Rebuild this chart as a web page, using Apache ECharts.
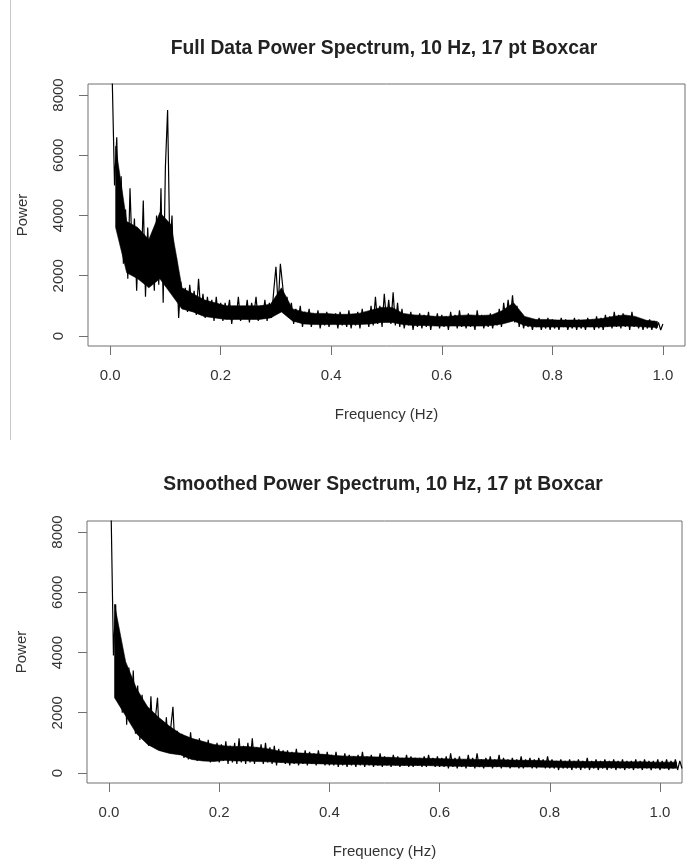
<!DOCTYPE html>
<html>
<head>
<meta charset="utf-8">
<script src="https://cdn.jsdelivr.net/npm/echarts@6/dist/echarts.min.js"></script>
<style>
  html, body { margin: 0; padding: 0; background: #fff; }
  #echart { width: 697px; height: 863px; }
</style>
</head>
<body>
<div id="echart"></div>
<script>
// frequency step of the read-off points (Hz)
var freqStep = 0.004;
// the dense black core of each trace is read every 0.02 Hz, starting at 0.01 Hz
var coreStart = 0.01;
var coreStep = 0.02;

// full data spectrum, 0.004 .. 1.000 Hz
var fullPower = [
  8400, 5000, 6600, 3600, 5300, 2400, 4200, 1900, 4900, 2700,
  3900, 1500, 3300, 2000, 4500, 1300, 3600, 1900, 2900, 1500,
  4000, 1700, 4900, 1100, 5600, 7500, 2900, 4000, 1500, 2600,
  600, 1800, 900, 1600, 800, 1700, 1000, 1500, 700, 1900,
  800, 1400, 600, 1300, 700, 1200, 500, 1300, 600, 1100,
  500, 1100, 700, 1200, 400, 1000, 600, 1300, 500, 900,
  600, 1200, 450, 1100, 700, 1300, 500, 1000, 600, 1200,
  500, 1100, 600, 1500, 2300, 1000, 2400, 1700, 900, 1300,
  600, 1100, 400, 900, 500, 1000, 300, 800, 450, 900,
  300, 750, 400, 850, 250, 700, 350, 800, 300, 650,
  400, 750, 250, 800, 350, 650, 300, 850, 250, 700,
  350, 800, 250, 900, 400, 750, 300, 1000, 350, 1300,
  400, 1000, 300, 1400, 500, 1200, 400, 1450, 350, 1100,
  300, 900, 250, 700, 350, 800, 200, 650, 300, 750,
  250, 700, 300, 800, 200, 650, 350, 750, 250, 700,
  300, 650, 200, 800, 350, 700, 250, 850, 300, 650,
  250, 750, 300, 600, 200, 850, 350, 700, 250, 650,
  300, 750, 250, 650, 350, 900, 300, 1100, 500, 1200,
  600, 1350, 450, 1000, 300, 700, 250, 600, 300, 550,
  200, 550, 300, 600, 200, 500, 250, 600, 200, 550,
  250, 500, 200, 600, 300, 550, 200, 500, 250, 600,
  200, 550, 250, 500, 200, 600, 300, 550, 200, 650,
  250, 600, 200, 700, 300, 650, 250, 800, 300, 700,
  250, 750, 300, 650, 200, 800, 300, 600, 250, 550,
  200, 500, 250, 550, 200, 500, 250, 450, 200, 400
];

// dense core of the top trace (lower / upper edge), 0.01 .. 0.99 Hz
var fullCoreLow = [
  3600, 2100, 1900, 1600, 1900, 1400, 900, 800, 650, 600,
  550, 550, 550, 550, 600, 800, 500, 400, 380, 380,
  380, 380, 380, 400, 450, 450, 380, 350, 350, 330,
  330, 330, 330, 330, 350, 400, 500, 350, 300, 300,
  300, 300, 300, 300, 300, 320, 330, 320, 300, 280
];
var fullCoreHigh = [
  6300, 3800, 3600, 3200, 4100, 3700, 1600, 1400, 1200, 1100,
  1000, 1000, 1000, 1000, 1050, 1600, 900, 800, 750, 750,
  720, 720, 750, 850, 950, 950, 750, 700, 680, 650,
  650, 680, 700, 680, 700, 850, 1100, 650, 550, 550,
  530, 530, 530, 550, 580, 650, 700, 650, 520, 480
];

// smoothed spectrum, 0.004 .. 1.040 Hz
var smoothPower = [
  8400, 3900, 5600, 2600, 4500, 2000, 3800, 1600, 3500, 1800,
  3400, 1300, 2900, 1100, 2600, 1200, 2000, 900, 2550, 1000,
  1800, 2500, 800, 1600, 700, 1850, 750, 1500, 2200, 650,
  1400, 600, 1300, 500, 1200, 450, 1350, 550, 1100, 400,
  1150, 450, 1000, 400, 1100, 350, 900, 450, 1000, 350,
  950, 400, 1050, 300, 900, 350, 1000, 300, 1150, 350,
  900, 300, 1000, 350, 1150, 300, 850, 400, 950, 300,
  1000, 350, 850, 300, 900, 250, 800, 350, 750, 300,
  750, 250, 700, 300, 800, 250, 650, 300, 750, 250,
  700, 300, 650, 250, 750, 300, 600, 250, 700, 250,
  600, 250, 700, 200, 550, 250, 650, 200, 600, 250,
  550, 200, 600, 250, 700, 200, 550, 250, 600, 200,
  500, 250, 650, 200, 550, 250, 500, 200, 600, 250,
  550, 200, 500, 250, 600, 200, 550, 200, 500, 250,
  500, 200, 550, 200, 600, 250, 500, 200, 550, 200,
  500, 200, 550, 150, 650, 200, 500, 150, 550, 200,
  450, 150, 600, 200, 500, 150, 650, 200, 450, 150,
  500, 200, 550, 150, 450, 200, 600, 150, 500, 200,
  450, 150, 500, 200, 450, 150, 550, 150, 450, 200,
  500, 150, 450, 150, 500, 200, 450, 150, 550, 150,
  450, 150, 400, 100, 450, 150, 400, 150, 450, 100,
  400, 150, 450, 100, 400, 150, 500, 100, 400, 150,
  450, 100, 400, 150, 450, 100, 400, 150, 450, 100,
  400, 150, 450, 100, 400, 150, 400, 100, 450, 150,
  400, 100, 450, 150, 400, 100, 400, 150, 450, 100,
  400, 150, 450, 100, 400, 150, 450, 100, 400, 150
];

// dense core of the bottom trace (lower / upper edge), 0.01 .. 1.03 Hz
var smoothCoreLow = [
  2500, 1900, 1300, 950, 750, 650, 600, 450, 400, 380,
  420, 400, 400, 380, 370, 350, 330, 320, 310, 300,
  290, 280, 280, 270, 260, 260, 250, 250, 250, 240,
  230, 220, 220, 210, 210, 210, 200, 200, 200, 190,
  190, 180, 180, 180, 175, 175, 170, 170, 165, 165,
  160, 160
];
var smoothCoreHigh = [
  5600, 3700, 2800, 2200, 1850, 1550, 1300, 1150, 1050, 950,
  900, 880, 880, 850, 800, 720, 680, 660, 640, 620,
  580, 560, 550, 540, 530, 520, 500, 500, 490, 480,
  470, 460, 460, 450, 440, 440, 430, 420, 420, 410,
  400, 390, 390, 380, 380, 380, 370, 370, 370, 360,
  360, 360
];

var xTicks = [0, 0.2, 0.4, 0.6, 0.8, 1.0];
var yTicks = [0, 2000, 4000, 6000, 8000];

var titles = [
  'Full Data Power Spectrum, 10 Hz, 17 pt Boxcar',
  'Smoothed Power Spectrum, 10 Hz, 17 pt Boxcar'
];

function toPairs(arr) {
  return arr.map(function (v, i) {
    return [+((i + 1) * freqStep).toFixed(3), v];
  });
}
function coreFreq(i) {
  return +(coreStart + i * coreStep).toFixed(3);
}

var font = "'Liberation Sans', Arial, sans-serif";
var boxColor = '#707070';
var textColor = '#333';

function xAxisOf(idx) {
  return {
    gridIndex: idx,
    type: 'value',
    position: 'bottom',
    min: -0.04,
    max: 1.04,
    name: 'Frequency (Hz)',
    nameLocation: 'middle',
    nameGap: 61,
    nameTextStyle: { fontFamily: font, fontSize: 15, color: textColor },
    axisLine: { show: false, onZero: false },
    splitLine: { show: false },
    axisTick: { show: true, length: 9, customValues: xTicks, lineStyle: { color: boxColor } },
    axisLabel: {
      customValues: xTicks,
      margin: 22,
      fontFamily: font,
      fontSize: 15,
      color: textColor,
      formatter: function (v) { return v.toFixed(1); }
    }
  };
}

function yAxisOf(idx) {
  return {
    gridIndex: idx,
    type: 'value',
    position: 'left',
    min: -332,
    max: 8365,
    name: 'Power',
    nameLocation: 'middle',
    nameGap: 58,
    nameRotate: 90,
    nameTextStyle: { fontFamily: font, fontSize: 15, color: textColor },
    axisLine: { show: false, onZero: false },
    splitLine: { show: false },
    axisTick: { show: true, length: 9, customValues: yTicks, lineStyle: { color: boxColor } },
    axisLabel: {
      customValues: yTicks,
      rotate: 90,
      margin: 22,
      fontFamily: font,
      fontSize: 15,
      color: textColor,
      formatter: function (v) { return String(v); }
    }
  };
}

// black band between the core edges, one polygon through the axis scales
function coreSeries(idx, low, high) {
  return {
    type: 'custom',
    xAxisIndex: idx,
    yAxisIndex: idx,
    silent: true,
    clip: true,
    data: [[coreFreq(0), low[0]]],
    renderItem: function (params, api) {
      var pts = [];
      for (var i = 0; i < high.length; i++) {
        pts.push(api.coord([coreFreq(i), high[i]]));
      }
      for (var j = low.length - 1; j >= 0; j--) {
        pts.push(api.coord([coreFreq(j), low[j]]));
      }
      return {
        type: 'polygon',
        shape: { points: pts },
        style: { fill: '#000', stroke: '#000', lineWidth: 0.6 }
      };
    }
  };
}

var myChart = echarts.init(document.getElementById('echart'), null, { renderer: 'canvas' });

myChart.setOption({
  animation: false,
  backgroundColor: '#fff',
  title: [
    { text: titles[0], left: 379, top: 34, textAlign: 'center',
      textStyle: { fontFamily: font, fontSize: 19.3, fontWeight: 'bold', color: '#222' } },
    { text: titles[1], left: 378, top: 470, textAlign: 'center',
      textStyle: { fontFamily: font, fontSize: 19.3, fontWeight: 'bold', color: '#222' } }
  ],
  grid: [
    { left: 88, top: 84, right: 12, height: 262, show: true, borderColor: boxColor, borderWidth: 1 },
    { left: 87, top: 521, right: 15, height: 262, show: true, borderColor: boxColor, borderWidth: 1 }
  ],
  xAxis: [xAxisOf(0), xAxisOf(1)],
  yAxis: [yAxisOf(0), yAxisOf(1)],
  series: [
    coreSeries(0, fullCoreLow, fullCoreHigh),
    coreSeries(1, smoothCoreLow, smoothCoreHigh),
    {
      name: 'full',
      type: 'line',
      xAxisIndex: 0,
      yAxisIndex: 0,
      showSymbol: false,
      clip: true,
      lineStyle: { color: '#000', width: 1.2 },
      data: toPairs(fullPower)
    },
    {
      name: 'smoothed',
      type: 'line',
      xAxisIndex: 1,
      yAxisIndex: 1,
      showSymbol: false,
      clip: true,
      lineStyle: { color: '#000', width: 1.2 },
      data: toPairs(smoothPower)
    }
  ],
  graphic: [
    // thin grey frame line at the left of the upper picture
    { type: 'line', shape: { x1: 10.5, y1: 0, x2: 10.5, y2: 440 }, style: { stroke: '#c8c8c8', lineWidth: 1 } }
  ]
});
</script>
</body>
</html>
